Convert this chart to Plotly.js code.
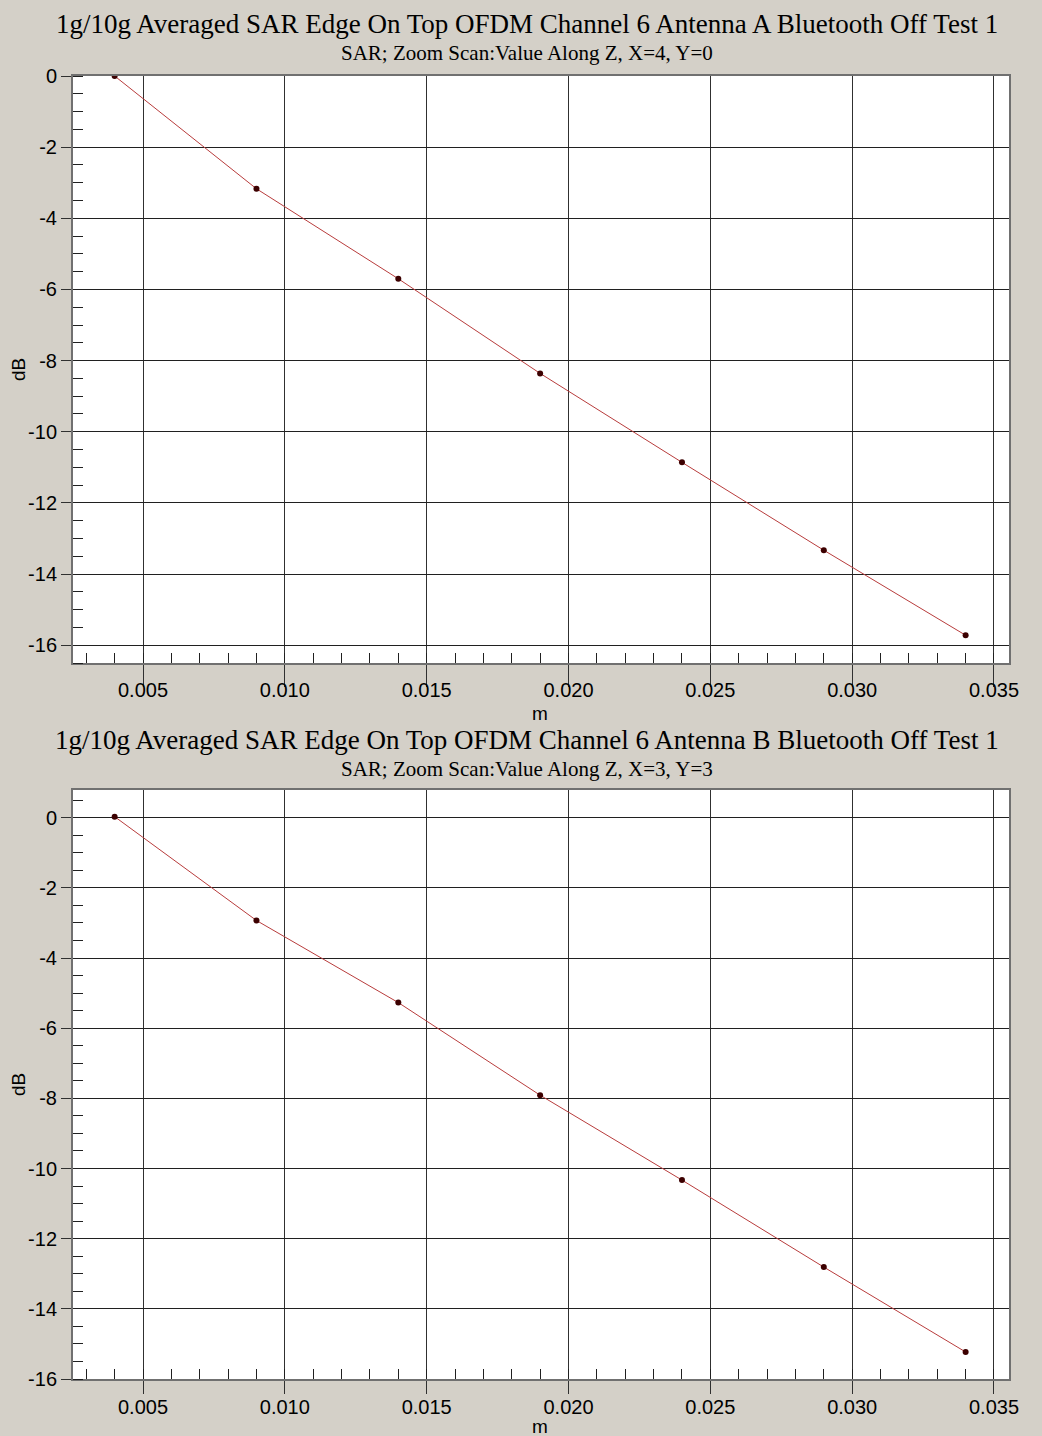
<!DOCTYPE html>
<html>
<head>
<meta charset="utf-8">
<script src="https://cdn.plot.ly/plotly-3.0.1.min.js"></script>
<style>html,body{margin:0;padding:0;background:#d4d0c8;}#chart{width:1042px;height:1436px;}</style>
</head>
<body>
<div id="chart"></div>
<script>
// ---- data ----
const zPositions = [0.004, 0.009, 0.014, 0.019, 0.024, 0.029, 0.034];
const sarAntennaA = [0.00, -3.17, -5.70, -8.36, -10.86, -13.33, -15.72];
const sarAntennaB = [0.03, -2.93, -5.27, -7.91, -10.33, -12.81, -15.23];
const titleA = "1g/10g Averaged SAR Edge On Top OFDM Channel 6 Antenna A Bluetooth Off Test 1";
const subtitleA = "SAR; Zoom Scan:Value Along Z, X=4, Y=0";
const titleB = "1g/10g Averaged SAR Edge On Top OFDM Channel 6 Antenna B Bluetooth Off Test 1";
const subtitleB = "SAR; Zoom Scan:Value Along Z, X=3, Y=3";
const yTickVals = [0, -2, -4, -6, -8, -10, -12, -14, -16];
const yTickText = ["0", "-2", "-4", "-6", "-8", "-10", "-12", "-14", "-16"];
const xTickVals = [0.005, 0.010, 0.015, 0.020, 0.025, 0.030, 0.035];
const xTickText = ["0.005", "0.010", "0.015", "0.020", "0.025", "0.030", "0.035"];
const xTitle = "m";
const yTitle = "dB";

// ---- layout helpers ----
const W = 1042, H = 1436;
const px = v => v / W;
const py = v => 1 - v / H;
const sans = "Liberation Sans, Arial, sans-serif";
const serif = "Liberation Serif, Times New Roman, serif";
const tickFont = {family: sans, size: 20, color: "#000"};

function lineTrace(y, xa, ya) {
  return {
    x: zPositions, y: y, xaxis: xa, yaxis: ya,
    type: "scatter", mode: "lines+markers",
    line: {color: "#b83c3c", width: 1},
    marker: {color: "#3c0000", size: 6},
    hoverinfo: "x+y", showlegend: false
  };
}

function xAxis(anchor, ticklen, standoff) {
  return {
    anchor: anchor,
    domain: [px(73), px(1009)],
    range: [0.002532, 0.035529],
    tickmode: "array", tickvals: xTickVals, ticktext: xTickText,
    ticks: "outside", ticklen: ticklen, tickcolor: "#303030", tickwidth: 1,
    ticklabelstandoff: standoff,
    minor: {dtick: 0.001, tick0: 0, ticks: "inside", ticklen: 10, tickcolor: "#202020", showgrid: false},
    showgrid: true, gridcolor: "#303030", gridwidth: 1,
    zeroline: false,
    showline: true, linecolor: "#707070", linewidth: 2, mirror: true,
    tickfont: tickFont
  };
}

function yAxis(anchor, domain, range) {
  return {
    anchor: anchor,
    domain: domain,
    range: range,
    tickmode: "array", tickvals: yTickVals, ticktext: yTickText,
    ticks: "outside", ticklen: 10, tickcolor: "#303030", tickwidth: 1,
    minor: {dtick: 0.5, tick0: 0, ticks: "inside", ticklen: 10, tickcolor: "#202020", showgrid: false},
    showgrid: true, gridcolor: "#202020", gridwidth: 1,
    zeroline: false,
    showline: true, linecolor: "#707070", linewidth: 2, mirror: true,
    tickfont: tickFont
  };
}

function note(text, x, y, font, angle) {
  return {text: text, x: px(x), y: py(y), xref: "paper", yref: "paper",
          xanchor: "center", yanchor: "middle", showarrow: false, font: font, textangle: angle || 0};
}

const data = [lineTrace(sarAntennaA, "x", "y"), lineTrace(sarAntennaB, "x2", "y2")];

const titleFont = {family: serif, size: 27, color: "#000"};
const subFont = {family: serif, size: 21, color: "#000"};
const axFont = {family: sans, size: 19, color: "#000"};

const layout = {
  width: W, height: H, autosize: false,
  margin: {l: 0, r: 0, t: 0, b: 0},
  paper_bgcolor: "#d4d0c8", plot_bgcolor: "#ffffff",
  showlegend: false,
  xaxis: xAxis("y", 22, -14),
  yaxis: yAxis("x", [py(663), py(76)], [-16.5, 0]),
  xaxis2: xAxis("y2", 13, -4),
  yaxis2: yAxis("x2", [py(1379), py(790)], [-16, 0.79]),
  annotations: [
    note(titleA, 527, 24, titleFont),
    note(subtitleA, 527, 53, subFont),
    note(titleB, 527, 740, titleFont),
    note(subtitleB, 527, 769, subFont),
    note(xTitle, 540, 713, axFont),
    note(xTitle, 540, 1426, axFont),
    note(yTitle, 18, 370, axFont, -90),
    note(yTitle, 18, 1085, axFont, -90)
  ]
};

Plotly.newPlot("chart", data, layout, {staticPlot: true, displayModeBar: false});
</script>
</body>
</html>
